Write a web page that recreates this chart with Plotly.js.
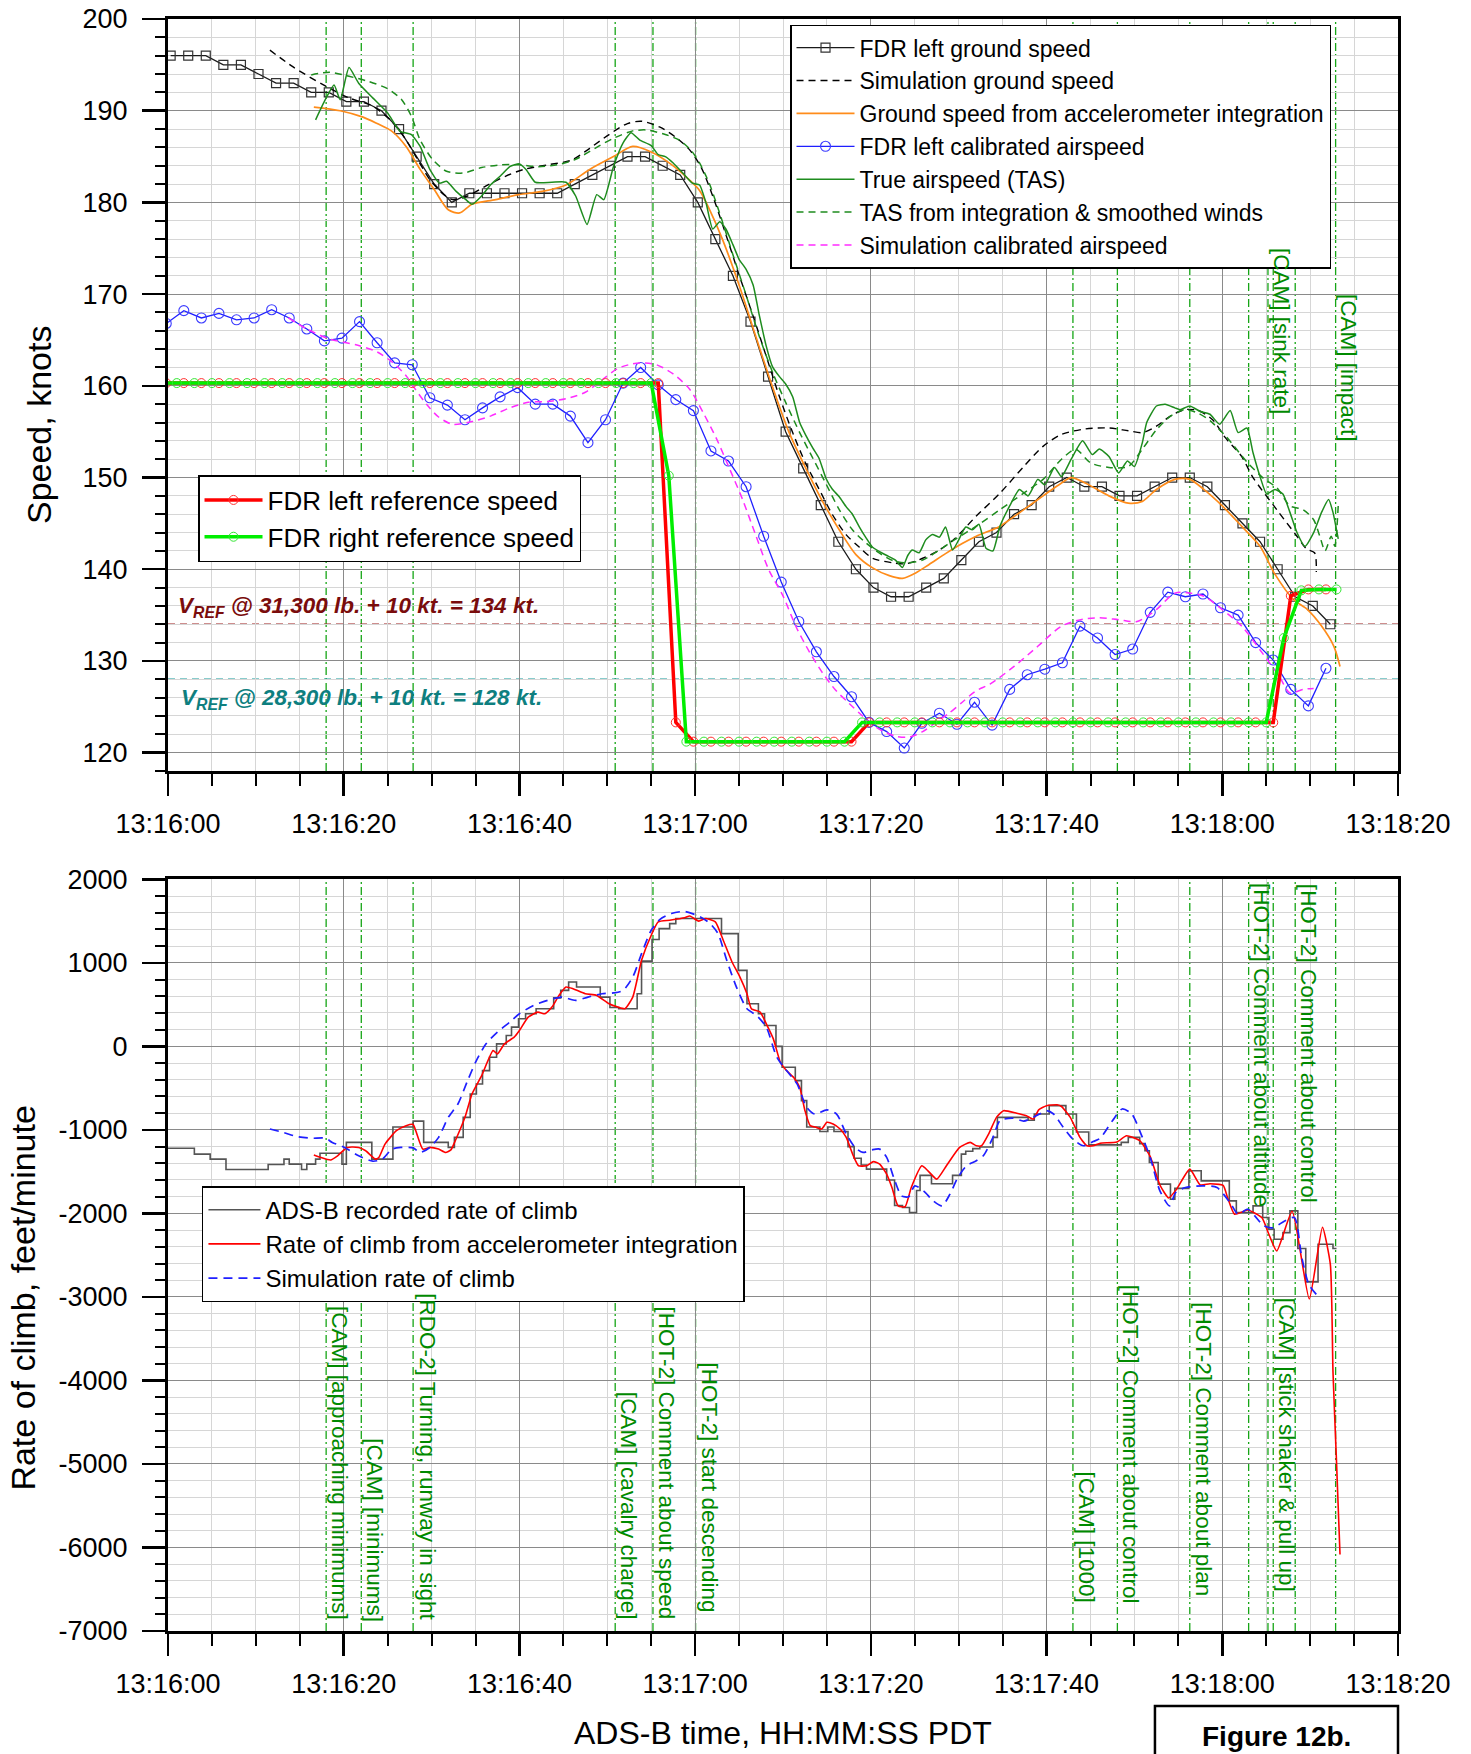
<!DOCTYPE html>
<html><head><meta charset="utf-8">
<script src="https://cdn.plot.ly/plotly-3.0.1.min.js"></script>
<style>html,body{margin:0;padding:0;background:#fff}#chart{width:1471px;height:1754px}</style>
</head><body><div id="chart"></div>
<script>
// ---------- DATA (time in seconds after 13:16:00 PDT) ----------
const gsFdrT = [0.3,2.3,4.3,6.3,8.3,10.3,12.3,14.3,16.3,18.3,20.3,22.3,24.3,26.3,28.3,30.3,32.3,34.3,36.3,38.3,40.3,42.3,44.3,46.3,48.3,50.3,52.3,54.3,56.3,58.3,60.3,62.3,64.3,66.3,68.3,70.3,72.3,74.3,76.3,78.3,80.3,82.3,84.3,86.3,88.3,90.3,92.3,94.3,96.3,98.3,100.3,102.3,104.3,106.3,108.3,110.3,112.3,114.3,116.3,118.3,120.3,122.3,124.3,126.3,128.3,130.3,132.3];
const gsFdrV = [196,196,196,195,195,194,193,193,192,192,191,191,190,188,185,182,180,181,181,181,181,181,181,182,183,184,185,185,184,183,180,176,172,167,161,155,151,147,143,140,138,137,137,138,139,141,143,144,146,147,149,150,149,149,148,148,149,150,150,149,147,145,143,140,137,136,134];

const simGsT = [11.6,14.2,17.9,20.6,23.3,25.5,27.1,28.4,29.8,31.4,32.4,34.1,36.2,38.4,40.5,43.2,45.9,48.0,50.2,52.3,53.9,56.0,57.8,59.4,60.7,62.0,63.5,65.0,66.6,68.1,69.6,71.1,72.6,74.1,75.6,77.2,78.7,80.2,82.5,84.0,85.9,87.8,89.5,92.0,94.7,97.4,99.6,101.7,104.4,107.1,109.3,110.9,112.5,114.1,115.7,117.3,118.9,120.3,122.2,123.5,126.2,128.5,129.6,130.5,130.7];
const simGsV = [196.6,194.8,192.7,191.4,190.5,188.8,186.8,184.7,182.5,180.85,180.3,180.7,181.8,182.85,183.6,184.1,184.6,185.9,187.4,188.6,188.85,188.2,187.1,185.7,183.8,180.7,176.5,172.1,167.6,163.2,158.8,154.9,151.5,148.75,146.0,143.75,142.4,141.2,140.7,140.6,141.2,142.1,143.3,145.8,148.3,151.2,153.4,154.7,155.3,155.4,155.1,154.9,155.6,156.7,157.4,157.3,156.3,154.4,152.3,150.0,146.5,143.6,142.2,141.8,139.7];

const accGsT = [16.6,19.6,22.2,23.8,25.5,27.1,28.7,30.3,31.9,33.2,34.6,37.3,39.95,42.6,45.3,48.0,50.7,52.9,55.0,57.2,59.4,60.5,61.6,63.1,65.0,66.9,68.8,70.7,72.6,74.5,76.4,78.3,80.2,82.1,83.6,85.1,86.6,88.5,90.4,92.0,94.7,97.4,99.6,101.7,102.8,104.4,107.1,109.3,110.9,112.5,114.6,116.3,117.9,120.0,122.2,124.3,125.9,128.1,129.7,131.3,132.7,133.4];
const accGsV = [190.4,190.0,189.3,188.6,187.75,186.1,183.6,181.4,179.2,178.85,179.8,180.3,180.85,181.2,181.9,183.6,185.0,186.1,185.5,184.2,182.4,181.3,179.3,176.0,171.0,165.4,159.9,154.9,151.0,147.4,144.3,141.6,140.15,139.3,139.0,139.6,140.5,141.7,142.8,143.6,144.7,146.5,148.0,149.4,150.0,149.4,148.0,147.2,147.4,148.7,149.8,149.8,148.7,146.9,144.7,142.5,139.6,136.7,135.6,133.8,131.6,129.4];

const casFdrT = [-0.2,1.8,3.8,5.8,7.8,9.8,11.8,13.8,15.8,17.8,19.8,21.8,23.8,25.8,27.8,29.8,31.8,33.8,35.8,37.8,39.8,41.8,43.8,45.8,47.8,49.8,51.8,53.8,55.8,57.8,59.8,61.8,63.8,65.8,67.8,69.8,71.8,73.8,75.8,77.8,79.8,81.8,83.8,85.8,87.8,89.8,91.8,93.8,95.8,97.8,99.8,101.8,103.8,105.8,107.8,109.8,111.8,113.8,115.8,117.8,119.8,121.8,123.8,125.8,127.8,129.8,131.8];
const casFdrV = [166.8,168.2,167.4,167.9,167.2,167.4,168.3,167.4,166.2,164.9,165.2,167.0,164.7,162.5,162.3,158.7,157.9,156.3,157.6,158.8,159.8,158.0,158.0,156.7,153.8,156.3,160.3,162.0,160.1,158.5,157.3,152.9,151.8,149.0,143.6,138.6,134.3,131.0,128.3,126.1,123.3,122.3,120.5,123.2,124.3,123.1,125.5,123.0,126.9,128.5,129.1,129.8,133.8,132.5,130.7,131.3,135.3,137.5,137.0,137.3,135.8,135.0,132.0,130.1,126.9,125.1,129.2];

const tasT = [16.8,17.9,18.9,19.6,20.6,21.7,23.3,25.0,26.4,27.7,28.7,29.8,30.9,31.7,32.8,33.9,34.6,35.7,36.7,37.8,38.9,40.0,40.75,41.8,43.7,45.3,46.4,47.7,48.8,49.6,50.7,51.8,52.7,53.7,55.0,55.8,56.6,57.5,58.6,59.7,60.5,61.25,62.0,62.8,63.5,64.3,65.0,65.8,66.6,67.3,68.1,68.8,69.6,70.3,71.1,71.9,72.6,73.4,74.1,74.9,75.6,76.4,77.2,77.9,78.7,79.4,80.2,81.7,82.8,83.6,84.2,84.7,85.5,86.25,87.0,87.8,88.5,89.3,90.0,90.8,91.55,92.3,93.1,93.9,94.7,95.8,96.9,97.9,99.0,99.8,100.9,101.7,102.8,104.1,105.2,106.0,107.1,108.2,109.2,110.0,110.9,111.4,112.5,113.5,114.6,115.2,116.3,117.5,118.6,119.7,120.9,121.8,122.8,123.5,124.3,125.05,126.0,126.9,127.7,128.5,129.4,130.4,131.3,132.1,132.6,133.2];
const tasV = [189.0,191.2,192.8,191.2,194.7,193.0,191.4,189.75,187.75,187.4,186.1,183.6,182.1,182.3,181.2,180.3,179.8,180.7,181.9,182.85,183.9,184.2,183.6,182.2,182.2,182.2,180.7,177.6,180.85,180.3,183.9,186.5,187.6,186.8,186.2,185.2,185.0,184.3,183.2,182.1,181.9,179.9,177.1,177.9,177.1,175.4,173.8,172.7,171.0,167.7,164.3,162.1,161.0,160.2,158.8,156.0,154.6,153.2,152.1,149.9,148.75,147.9,146.8,146.0,144.6,143.5,142.4,141.55,141.0,140.2,141.5,142.1,141.8,143.2,143.8,143.5,144.6,142.1,143.2,144.6,144.3,144.9,142.3,142.0,144.7,146.9,148.7,148.0,149.8,149.2,151.1,150.1,152.0,154.0,152.5,153.1,152.3,150.5,151.8,151.2,153.8,156.0,157.8,158.0,157.6,157.4,157.8,157.2,156.9,155.8,157.3,154.9,155.4,152.7,150.1,148.2,148.7,148.2,146.2,144.0,142.5,144.0,146.2,147.6,146.2,143.3];

const tasIntT = [16.3,18.4,20.6,22.8,25.0,26.6,27.7,28.7,30.1,31.7,33.6,35.7,37.9,40.0,42.2,44.3,46.4,48.6,50.7,52.9,54.5,56.6,58.2,59.6,60.5,61.6,62.8,64.3,65.8,67.3,68.8,70.3,71.9,73.4,74.9,76.4,77.9,79.4,80.9,82.5,84.0,85.9,87.8,89.5,92.0,94.7,97.4,99.6,101.7,103.3,105.0,107.1,109.3,110.9,112.5,114.1,115.7,117.3,118.6,120.5,122.8,124.7,126.2,127.7,129.2,130.4,131.1,131.7,132.4,132.8,133.2];
const tasIntV = [193.9,194.2,193.75,193.2,192.4,191.2,189.4,186.8,184.7,183.4,183.2,183.8,184.1,184.1,183.9,184.1,184.7,185.9,187.0,187.8,187.9,187.4,186.8,185.6,184.3,182.1,178.8,174.3,169.9,165.4,161.5,158.2,154.9,152.1,149.3,146.5,144.3,142.9,141.8,140.95,140.7,141.0,142.1,143.2,144.7,146.5,148.3,149.8,152.0,153.1,151.6,151.1,151.2,153.1,155.2,156.7,157.4,157.0,156.2,154.4,151.7,149.9,148.9,146.9,146.5,145.4,143.6,142.0,143.6,142.5,147.0];

const simCasT = [13.7,15.8,18.4,21.7,23.8,25.5,27.1,28.1,29.5,30.8,32.4,34.6,36.7,38.9,41.0,43.2,45.3,47.5,49.6,51.2,52.9,53.9,55.6,57.5,59.4,60.9,62.4,63.9,65.4,66.9,68.4,70.0,71.5,73.0,74.5,76.0,77.5,79.05,80.9,82.8,84.4,85.9,87.4,88.9,90.4,91.9,93.6,96.3,99.0,101.7,103.9,106.0,108.2,110.3,112.5,114.6,116.3,117.9,120.0,122.2,124.3,126.5,127.7,129.2,130.4];
const simCasV = [167.4,166.2,165.1,164.4,163.7,162.6,161.1,159.7,157.9,156.6,155.8,156.1,156.7,157.6,158.2,158.3,158.6,159.3,160.8,161.9,162.4,162.5,162.3,161.3,159.6,157.1,154.3,151.0,147.6,143.7,139.9,137.1,133.7,131.0,128.7,126.8,125.4,124.0,122.6,121.8,121.7,122.3,123.3,124.3,125.5,126.7,127.5,129.4,131.6,133.8,134.5,134.7,134.5,134.3,135.6,137.4,137.4,137.05,135.6,133.8,131.2,128.3,126.5,126.9,127.0];

const refLeftT = [-0.2,1.8,3.8,5.8,7.8,9.8,11.8,13.8,15.8,17.8,19.8,21.8,23.8,25.8,27.8,29.8,31.8,33.8,35.8,37.8,39.8,41.8,43.8,45.8,47.8,49.8,51.8,53.8,55.8,57.8,59.8,61.8,63.8,65.8,67.8,69.8,71.8,73.8,75.8,77.8,79.8,81.8,83.8,85.8,87.8,89.8,91.8,93.8,95.8,97.8,99.8,101.8,103.8,105.8,107.8,109.8,111.8,113.8,115.8,117.8,119.8,121.8,123.8,125.8,127.8,129.8,131.8];
const refLeftV = [160.3,160.3,160.3,160.3,160.3,160.3,160.3,160.3,160.3,160.3,160.3,160.3,160.3,160.3,160.3,160.3,160.3,160.3,160.3,160.3,160.3,160.3,160.3,160.3,160.3,160.3,160.3,160.3,160.3,123.3,121.2,121.2,121.2,121.2,121.2,121.2,121.2,121.2,121.2,121.2,123.3,123.3,123.3,123.3,123.3,123.3,123.3,123.3,123.3,123.3,123.3,123.3,123.3,123.3,123.3,123.3,123.3,123.3,123.3,123.3,123.3,123.3,123.3,123.3,137.1,137.8,137.8];
const refRightT = [-1,1,3,5,7,9,11,13,15,17,19,21,23,25,27,29,31,33,35,37,39,41,43,45,47,49,51,53,55,57,59,61,63,65,67,69,71,73,75,77,79,81,83,85,87,89,91,93,95,97,99,101,103,105,107,109,111,113,115,117,119,121,123,125,127,129,131,133];
const refRightV = [160.3,160.3,160.3,160.3,160.3,160.3,160.3,160.3,160.3,160.3,160.3,160.3,160.3,160.3,160.3,160.3,160.3,160.3,160.3,160.3,160.3,160.3,160.3,160.3,160.3,160.3,160.3,160.3,160.3,150.2,121.2,121.2,121.2,121.2,121.2,121.2,121.2,121.2,121.2,121.2,123.3,123.3,123.3,123.3,123.3,123.3,123.3,123.3,123.3,123.3,123.3,123.3,123.3,123.3,123.3,123.3,123.3,123.3,123.3,123.3,123.3,123.3,123.3,123.3,132.5,137.7,137.8,137.8];

const vrefHigh = 134, vrefLow = 128;

const adsbT = [0,3.0,4.8,6.6,11.4,13.2,13.8,15.2,15.8,16.8,17.3,19.8,20.3,23.2,25.6,27.9,29.1,31.9,32.6,33.6,34.4,35.1,35.8,36.6,37.4,38.5,39.1,39.9,40.7,41.9,43.9,44.7,45.6,46.5,49.2,50.3,51.3,53.4,53.9,55.1,55.9,57.1,57.8,63.0,64.9,65.9,67.2,67.9,69.2,69.9,71.4,72.1,72.7,74.2,75.1,75.8,77.4,78.1,78.9,79.5,81.8,82.7,83.6,84.4,85.2,85.6,86.9,89.3,90.3,90.8,91.6,92.4,93.9,94.4,97.9,98.6,100.3,102.2,103.4,104.8,108.5,109.3,110.6,111.2,111.7,112.7,114.1,114.6,116.2,117.6,120.8,121.6,123.5,124.6,125.3,125.9,126.9,127.7,128.6,129.5,130.9,132.6,133.0];
const adsbV = [-1220,-1290,-1350,-1475,-1415,-1350,-1410,-1475,-1410,-1350,-1280,-1410,-1150,-1350,-965,-895,-1150,-1210,-1090,-850,-570,-450,-290,-130,30,130,230,330,390,450,580,670,770,710,590,465,450,630,1020,1280,1410,1470,1530,1350,910,510,390,250,0,-250,-410,-650,-965,-1020,-965,-1020,-1200,-1340,-1420,-1470,-1600,-1905,-1930,-1990,-1725,-1545,-1645,-1545,-1290,-1255,-1225,-1205,-1090,-850,-885,-810,-710,-810,-1025,-1180,-1150,-1090,-1165,-1250,-1390,-1650,-1830,-1700,-1490,-1610,-1850,-1990,-1910,-2050,-2190,-2310,-2230,-1970,-2420,-2820,-2370,-2420,-2420];

const accRocT = [16.6,17.4,18.5,19.3,20.4,21.7,22.5,23.6,24.0,24.7,26.0,27.1,27.9,28.2,29.0,29.8,30.8,31.6,32.2,32.7,33.8,34.6,35.7,37.0,37.5,38.3,39.4,40.0,41.0,42.1,42.9,43.7,44.5,45.3,46.1,47.5,48.8,50.2,51.2,52.0,52.9,53.9,55.0,55.8,57.1,58.8,59.4,60.4,61.2,62.3,63.2,64.2,65.1,65.9,66.4,67.4,68.1,68.9,69.7,70.4,71.2,71.9,72.5,73.1,73.8,74.4,75.0,75.7,76.5,77.2,78.0,78.6,79.5,80.3,81.0,81.8,82.4,83.1,83.9,84.6,85.8,86.5,87.5,88.6,90.1,91.3,92.0,92.6,93.4,94.3,95.1,96.6,97.7,98.5,99.1,100.0,101.2,101.7,102.7,103.8,104.6,105.3,106.1,108.0,109.1,110.6,111.8,112.9,113.9,114.8,116.3,117.5,118.6,120.1,120.6,121.4,122.9,124.5,125.3,126.2,127.95,129.9,131.4,132.3,132.6,133.0,133.4];
const accRocV = [-1300,-1330,-1360,-1310,-1210,-1210,-1250,-1350,-1330,-1170,-1010,-950,-935,-1010,-1230,-1210,-1230,-1270,-1240,-1130,-850,-570,-350,-50,-90,30,110,190,350,410,390,470,610,710,690,630,610,510,470,450,590,1030,1330,1490,1510,1540,1560,1500,1530,1490,1270,1010,830,630,450,410,270,90,-190,-290,-370,-490,-770,-950,-970,-990,-910,-930,-990,-1090,-1310,-1430,-1430,-1380,-1410,-1530,-1690,-1910,-1920,-1690,-1430,-1490,-1590,-1430,-1210,-1150,-1190,-1190,-1050,-850,-770,-800,-830,-870,-760,-710,-700,-720,-850,-1090,-1190,-1190,-1160,-1145,-1070,-1130,-1320,-1660,-1815,-1710,-1470,-1660,-1645,-1665,-1810,-2010,-1960,-2050,-2250,-2450,-1975,-3025,-2165,-2610,-3900,-4970,-6085];

const simRocT = [11.6,13.1,14.7,16.3,17.9,18.7,20.1,21.7,23.3,24.4,25.5,26.5,27.9,28.7,29.8,30.8,31.9,33.0,34.1,35.1,36.2,37.5,38.9,40.0,41.6,43.2,44.8,46.4,47.8,49.4,50.7,51.8,52.9,53.9,55.0,56.0,57.3,58.8,60.6,61.7,62.6,63.6,64.7,65.9,67.0,68.1,69.3,70.4,71.6,72.7,73.6,75.0,76.1,77.2,78.2,79.1,80.1,81.0,81.8,82.6,83.5,84.3,85.0,86.0,87.1,88.1,89.0,89.9,90.9,92.0,92.8,93.9,94.7,96.2,97.4,98.5,99.2,100.0,100.8,101.9,103.0,104.2,105.3,106.1,107.5,108.6,109.7,110.75,111.8,112.9,114.0,114.7,115.8,117.8,119.4,121.0,121.8,122.9,123.7,124.75,125.8,127.1,128.2,129.05,129.85,130.7];
const simRocV = [-990,-1030,-1080,-1100,-1100,-1150,-1210,-1310,-1375,-1350,-1230,-1210,-1215,-1270,-1210,-1090,-850,-690,-410,-170,30,170,290,390,490,550,590,550,590,630,640,670,830,1110,1390,1520,1590,1615,1550,1470,1350,1030,710,450,370,230,-130,-290,-450,-730,-810,-760,-810,-1050,-1210,-1270,-1240,-1230,-1330,-1570,-1790,-1800,-1670,-1730,-1850,-1910,-1770,-1570,-1430,-1370,-1310,-1090,-890,-860,-895,-850,-810,-770,-810,-970,-1110,-1190,-1140,-1100,-890,-750,-810,-1050,-1330,-1730,-1910,-1750,-1690,-1670,-1690,-1890,-2010,-1950,-2030,-2150,-2170,-2090,-2050,-2530,-2850,-2970];

// CVR / event markers
const eventT = [18.0,22.0,27.9,50.9,55.2,60.05,103.0,108.06,116.3,123.0,125.2,125.8,128.3,132.9];
const eventText = ['[CAM] [approaching minimums]','[CAM] [minimums]','[RDO-2] Turning, runway in sight','[CAM] [cavalry charge]','[HOT-2] Comment about speed','[HOT-2] start descending','[CAM] [1000]','[HOT-2] Comment about control','[HOT-2] Comment about plan','[HOT-2] Comment about altitude','[CAM] [sink rate]','[CAM] [stick shaker & pull up]','[HOT-2] Comment about control','[CAM] [impact]'];

const xTicks = ['13:16:00','13:16:20','13:16:40','13:17:00','13:17:20','13:17:40','13:18:00','13:18:20'];
const yTicksRoc = [2000,1000,0,-1000,-2000,-3000,-4000,-5000,-6000,-7000];
const yTickTextRoc = ['2000','1000','0','-1000','-2000','-3000','-4000','-5000','-6000','-7000'];

// ---------- helpers ----------
const T0 = Date.UTC(2024,0,1,13,16,0);
function ts(s){ return new Date(T0 + Math.round(s*1000)).toISOString().replace('T',' ').replace('Z',''); }
const FONT = 'Liberation Sans, Arial, Helvetica, sans-serif';
const EVC = '#008a00';

// placement of event labels: [plot, y value, anchor]
const labelPos = [
  ['2',-6875,'bottom'],['2',-6905,'bottom'],['2',-6885,'bottom'],['2',-6875,'bottom'],['2',-6875,'bottom'],['2',-6790,'bottom'],
  ['2',-6670,'bottom'],['2',-6690,'bottom'],['2',-6600,'bottom'],['2',1965,'top'],['',175.1,'top'],['2',-6540,'bottom'],['2',1955,'top'],['',170.1,'top']
];

const traces = [
 {x:gsFdrT.map(ts), y:gsFdrV, xaxis:'x', yaxis:'y', mode:'lines+markers', name:'FDR left ground speed', legend:'legend',
  line:{color:'#1a1a1a', width:1.3}, marker:{symbol:'square-open', size:9, color:'#333333', line:{width:1.2}}},
 {x:simGsT.map(ts), y:simGsV, xaxis:'x', yaxis:'y', mode:'lines', name:'Simulation ground speed', legend:'legend',
  line:{color:'#000000', width:1.4, dash:'7px,5px', shape:'spline', smoothing:0.8}},
 {x:accGsT.map(ts), y:accGsV, xaxis:'x', yaxis:'y', mode:'lines', name:'Ground speed from accelerometer integration', legend:'legend',
  line:{color:'#ff8c1a', width:1.7, shape:'spline', smoothing:0.8}},
 {x:casFdrT.map(ts), y:casFdrV, xaxis:'x', yaxis:'y', mode:'lines+markers', name:'FDR left calibrated airspeed', legend:'legend',
  line:{color:'#1f1fff', width:1.3}, marker:{symbol:'circle-open', size:10, color:'#3b3bff', line:{width:1.1}}},
 {x:tasT.map(ts), y:tasV, xaxis:'x', yaxis:'y', mode:'lines', name:'True airspeed (TAS)', legend:'legend',
  line:{color:'#1e8c1e', width:1.5, shape:'spline', smoothing:0.5}},
 {x:tasIntT.map(ts), y:tasIntV, xaxis:'x', yaxis:'y', mode:'lines', name:'TAS from integration & smoothed winds', legend:'legend',
  line:{color:'#1e8c1e', width:1.5, dash:'7px,5px', shape:'spline', smoothing:0.7}},
 {x:simCasT.map(ts), y:simCasV, xaxis:'x', yaxis:'y', mode:'lines', name:'Simulation calibrated airspeed', legend:'legend',
  line:{color:'#ff2cff', width:1.5, dash:'7px,5px', shape:'spline', smoothing:0.8}},
 {x:refLeftT.map(ts), y:refLeftV, xaxis:'x', yaxis:'y', mode:'lines+markers', name:'FDR left reference speed', legend:'legend2',
  line:{color:'#ff0000', width:3.5}, marker:{symbol:'circle-open', size:9, color:'#ff3030', line:{width:1}}},
 {x:refRightT.map(ts), y:refRightV, xaxis:'x', yaxis:'y', mode:'lines+markers', name:'FDR right reference speed', legend:'legend2',
  line:{color:'#00ee00', width:3.5}, marker:{symbol:'circle-open', size:9, color:'#33e633', line:{width:1}}},
 {x:adsbT.map(ts), y:adsbV, xaxis:'x2', yaxis:'y2', mode:'lines', name:'ADS-B recorded rate of climb', legend:'legend3',
  line:{color:'#555555', width:1.6, shape:'hv'}},
 {x:accRocT.map(ts), y:accRocV, xaxis:'x2', yaxis:'y2', mode:'lines', name:'Rate of climb from accelerometer integration', legend:'legend3',
  line:{color:'#ff0000', width:1.6, shape:'spline', smoothing:0.5}},
 {x:simRocT.map(ts), y:simRocV, xaxis:'x2', yaxis:'y2', mode:'lines', name:'Simulation rate of climb', legend:'legend3',
  line:{color:'#1f1fff', width:1.7, dash:'9px,6px', shape:'spline', smoothing:0.7}}
];

const shapes = [];
eventT.forEach(t => {
  shapes.push({type:'line', xref:'x', yref:'y domain', x0:ts(t), x1:ts(t), y0:0, y1:1, layer:'below', line:{color:'#16a516', width:1.3, dash:'8px,3px,2px,3px'}});
  shapes.push({type:'line', xref:'x2', yref:'y2 domain', x0:ts(t), x1:ts(t), y0:0, y1:1, layer:'below', line:{color:'#16a516', width:1.3, dash:'8px,3px,2px,3px'}});
});
shapes.push({type:'line', xref:'x domain', yref:'y', x0:0, x1:1, y0:vrefHigh, y1:vrefHigh, layer:'below', line:{color:'#9b1c1c', width:1.5, dash:'7px,5px'}});
shapes.push({type:'line', xref:'x domain', yref:'y', x0:0, x1:1, y0:vrefLow, y1:vrefLow, layer:'below', line:{color:'#139a9a', width:1.5, dash:'7px,5px'}});
shapes.push({type:'rect', xref:'paper', yref:'paper', x0:0.8024, x1:1.0, y0:-0.095, y1:-0.0465, line:{color:'black', width:2.5}, fillcolor:'white'});

const annotations = [];
eventT.forEach((t,i) => {
  const p = labelPos[i];
  annotations.push({xref:'x'+p[0], yref:'y'+p[0], x:ts(t), y:p[1], xanchor:'left', yanchor:p[2], textangle:90,
    text:eventText[i], showarrow:false, borderpad:0, font:{family:FONT, size:22.5, color:EVC}});
});
annotations.push({xref:'x', yref:'y', x:ts(0.9), y:vrefHigh, xanchor:'left', yanchor:'bottom', yshift:1, showarrow:false,
  text:'<b><i>V<sub>REF</sub> @ 31,300 lb. + 10 kt. = 134 kt.</i></b>', font:{family:FONT, size:22.5, color:'#7a0c0c'}});
annotations.push({xref:'x', yref:'y', x:ts(1.2), y:vrefLow, xanchor:'left', yanchor:'top', yshift:-4, showarrow:false,
  text:'<b><i>V<sub>REF</sub> @ 28,300 lb. + 10 kt. = 128 kt.</i></b>', font:{family:FONT, size:22.5, color:'#0e7f7f'}});
annotations.push({xref:'paper', yref:'paper', x:0.9012, y:-0.0655, xanchor:'center', yanchor:'middle', showarrow:false,
  text:'<b>Figure 12b.</b>', font:{family:FONT, size:28, color:'black'}});
// axis titles
annotations.push({xref:'paper', yref:'paper', x:-0.1049, y:0.7481, xanchor:'center', yanchor:'middle', textangle:-90, showarrow:false,
  text:'Speed, knots', font:{family:FONT, size:34, color:'black'}});
annotations.push({xref:'paper', yref:'paper', x:-0.1179, y:0.2068, xanchor:'center', yanchor:'middle', textangle:-90, showarrow:false,
  text:'Rate of climb, feet/minute', font:{family:FONT, size:34, color:'black'}});
annotations.push({xref:'paper', yref:'paper', x:0.5, y:-0.0635, xanchor:'center', yanchor:'middle', showarrow:false,
  text:'ADS-B time, HH:MM:SS PDT', font:{family:FONT, size:32, color:'black'}});

const xCommon = {
  type:'date', range:[ts(0), ts(140)], tickmode:'array', tickvals:xTicks.map((s,i)=>ts(i*20)), ticktext:xTicks,
  ticks:'outside', ticklen:22, tickwidth:2.5, tickcolor:'black', ticklabelstandoff:5,
  showgrid:true, gridcolor:'#8a8a8a', gridwidth:1, showline:true, linecolor:'black', linewidth:3, mirror:true, zeroline:false,
  tickfont:{family:FONT, size:27, color:'black'},
  minor:{tick0:ts(0), dtick:5000, ticks:'outside', ticklen:12, tickwidth:2, tickcolor:'black', showgrid:true, gridcolor:'#d6d6d6', gridwidth:1}
};
const yCommon = {
  ticks:'outside', ticklen:23, tickwidth:2.5, tickcolor:'black', ticklabelstandoff:9,
  showgrid:true, gridcolor:'#8a8a8a', gridwidth:1, showline:true, linecolor:'black', linewidth:3, mirror:true, zeroline:false,
  tickfont:{family:FONT, size:27, color:'black'}
};

const layout = {
  width:1471, height:1754,
  margin:{l:168, r:73, t:19, b:123, pad:0},
  paper_bgcolor:'white', plot_bgcolor:'white',
  font:{family:FONT, color:'black', size:24},
  showlegend:true,
  xaxis:Object.assign({}, xCommon, {anchor:'y', domain:[0,1]}),
  xaxis2:Object.assign({}, xCommon, {anchor:'y2', domain:[0,1]}),
  yaxis:Object.assign({}, yCommon, {anchor:'x', domain:[0.5335,1], range:[118,200], tick0:0, dtick:10,
    minor:{tick0:0, dtick:2, ticks:'outside', ticklen:10, tickwidth:2, tickcolor:'black', showgrid:true, gridcolor:'#d6d6d6'}}),
  yaxis2:Object.assign({}, yCommon, {anchor:'x2', domain:[0,0.4663], range:[-7000,2000], tickmode:'array', tickvals:yTicksRoc, ticktext:yTickTextRoc,
    minor:{tick0:0, dtick:200, ticks:'outside', ticklen:10, tickwidth:2, tickcolor:'black', showgrid:true, gridcolor:'#d6d6d6'}}),
  legend:{x:0.5057, y:0.9965, xanchor:'left', yanchor:'top', bgcolor:'white', bordercolor:'black', borderwidth:1.5,
    font:{family:FONT, size:23}, itemwidth:58, tracegroupgap:0},
  legend2:{x:0.0244, y:0.7171, xanchor:'left', yanchor:'top', bgcolor:'white', bordercolor:'black', borderwidth:1.5,
    font:{family:FONT, size:26}, itemwidth:58, tracegroupgap:0},
  legend3:{x:0.0276, y:0.276, xanchor:'left', yanchor:'top', bgcolor:'white', bordercolor:'black', borderwidth:1.5,
    font:{family:FONT, size:24}, itemwidth:52, tracegroupgap:0},
  shapes:shapes,
  annotations:annotations
};

Plotly.newPlot('chart', traces, layout, {staticPlot:true, displayModeBar:false});
</script></body></html>
